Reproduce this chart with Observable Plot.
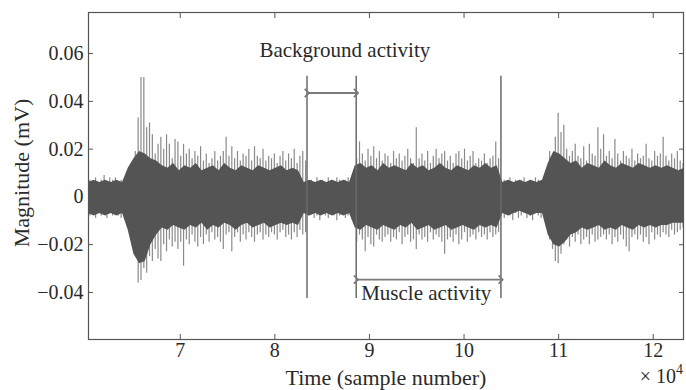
<!DOCTYPE html>
<html>
<head>
<meta charset="utf-8">
<script src="https://cdn.jsdelivr.net/npm/d3@7"></script>
<script src="https://cdn.jsdelivr.net/npm/@observablehq/plot@0.6"></script>
<style>
  html, body { margin: 0; padding: 0; background: #fff; }
  #chart { width: 686px; height: 390px; }
</style>
</head>
<body>
<div id="chart"></div>
<script>
// EMG trace (units: 10^-3 mV)
const sampleStart = 60450;   // first sample of the peak series
const sampleStep = 300;      // samples between peak readings
const upperPeaks = [
  7,6,8,6,7,9,6,8,7,8,6,7,6,7,
  10,14,19,33,50,50,29,31,
  26,18,22,25,20,26,22,16,24,
  23,17,22,18,20,16,19,17,21,15,
  18,14,16,19,15,17,19,25,17,21,
  16,19,15,18,17,20,15,21,17,16,
  20,15,17,16,18,14,17,19,15,18,
  16,20,14,17,19,15,
  6,7,5,8,6,7,6,8,7,6,8,7,6,7,8,6,7,
  16,23,18,15,20,17,21,16,19,15,18,
  17,14,19,16,18,15,17,20,16,14,29,
  16,18,15,19,14,17,20,16,18,19,15,
  17,14,18,19,16,20,15,17,19,14,16,
  15,18,14,16,17,23,16,
  6,7,6,8,5,7,6,7,8,6,7,6,8,7,6,7,
  12,19,16,25,35,27,30,20,17,19,
  22,17,16,21,15,22,18,17,29,20,26,
  17,19,16,24,18,15,19,17,16,20,15,
  18,16,17,22,16,15,19,17,18,25,
  17,15,18,16,19,15,14
];
const lowerPeaks = [
  -8,-7,-9,-6,-8,-7,-9,-6,-8,-7,-8,-9,-7,-8,
  -11,-15,-24,-36,-35,-30,-32,-25,
  -27,-22,-26,-27,-20,-23,-18,-21,-19,
  -22,-19,-29,-18,-20,-16,-19,-21,-17,-20,
  -16,-19,-15,-18,-17,-19,-22,-16,-15,-23,
  -17,-15,-19,-16,-18,-15,-17,-19,-16,-15,
  -18,-16,-17,-15,-16,-18,-15,-14,-17,-16,
  -18,-15,-17,-14,-16,-15,
  -8,-7,-9,-8,-10,-7,-8,-9,-7,-8,-10,-8,-7,-9,-8,-7,-9,
  -19,-16,-18,-23,-17,-20,-21,-16,-18,-19,-17,
  -16,-19,-17,-18,-15,-20,-17,-16,-19,-18,-22,
  -16,-18,-17,-19,-15,-18,-16,-17,-19,-24,-18,
  -17,-19,-16,-20,-18,-15,-19,-17,-16,-18,-15,
  -17,-16,-18,-15,-17,-16,-15,
  -8,-9,-7,-8,-10,-7,-9,-8,-7,-9,-8,-10,-7,-8,-9,-8,
  -12,-18,-22,-27,-28,-24,-20,-18,-21,-17,
  -19,-16,-20,-18,-17,-20,-16,-19,-18,-17,-16,
  -18,-16,-20,-17,-19,-16,-18,-21,-23,-17,-16,
  -18,-16,-19,-17,-20,-15,-18,-16,-17,-15,
  -16,-17,-14,-16,-15,-14,-13
];
// dense dark core of the trace (units: 10^-3 mV)
const coreStart = 60300;
const coreStep = 600;
const coreUpper = [
  6,7,6,7,6,7,6,
  12,16,19,18,16,15,
  13,12,14,11,13,12,14,11,12,13,11,14,12,11,13,12,11,13,12,11,12,13,11,12,11,
  6,7,6,7,6,7,6,7,6,
  13,14,12,13,11,14,12,13,12,11,14,12,13,11,12,14,12,11,13,12,11,13,12,14,12,13,
  6,7,6,7,6,7,6,7,
  14,19,18,16,14,15,12,14,13,12,15,13,12,14,13,12,14,13,12,13,12,13,12,11,12
];
const coreLower = [
  -7,-8,-7,-8,-7,-8,-7,
  -14,-24,-28,-27,-20,-16,
  -13,-14,-12,-13,-14,-12,-13,-11,-14,-12,-13,-11,-12,-14,-12,-11,-13,-12,-11,-13,-12,-11,-12,-11,-12,
  -7,-8,-7,-8,-7,-8,-7,-8,-7,
  -13,-14,-12,-13,-14,-12,-13,-14,-12,-13,-11,-14,-13,-12,-14,-13,-12,-14,-13,-12,-13,-14,-12,-13,-12,-13,
  -7,-8,-7,-6,-7,-8,-7,-7,
  -16,-20,-21,-19,-16,-15,-13,-14,-13,-12,-14,-13,-14,-12,-13,-14,-12,-13,-12,-13,-12,-12,-11,-11,-11
];

// segment markers and annotations
const markerSamples = [83400, 88600, 103900];
const markerTop = [0.0505, 0.0505, 0.0505];
const markerBottom = [-0.0425, -0.0425, -0.0425];
const annotationText = ["Background activity", "Muscle activity"];
const annotationSample = [87400, 96000];
const annotationY = [0.0613, -0.0404];
const spanStart = [83400, 88600];
const spanEnd = [88600, 103900];
const spanY = [0.0435, -0.0346];

const xTicks = [70000, 80000, 90000, 100000, 110000, 120000];
const yTicks = [-0.04, -0.02, 0, 0.02, 0.04, 0.06];
const xDomain = [60300, 123200];
const yDomain = [-0.0597, 0.0772];

const unit = 1e-3;
const peaks = upperPeaks.map((u, i) => ({t: sampleStart + i * sampleStep, hi: u * unit, lo: lowerPeaks[i] * unit}));
const core = coreUpper.map((u, i) => ({t: coreStart + i * coreStep, hi: u * unit, lo: coreLower[i] * unit}));
const markers = markerSamples.map((t, i) => ({t, y1: markerBottom[i], y2: markerTop[i]}));
const notes = annotationText.map((text, i) => ({text, t: annotationSample[i], y: annotationY[i]}));
const spans = spanStart.map((a, i) => ({x1: a, x2: spanEnd[i], y: spanY[i]}));

const font = "'Liberation Serif', 'DejaVu Serif', serif";
const ink = "#2a2a2a";
const yFormat = d3.format(".2~f");

const chart = Plot.plot({
  width: 686,
  height: 390,
  marginLeft: 88,
  marginRight: 3,
  marginTop: 12,
  marginBottom: 51,
  style: {fontFamily: font, fontSize: "20px", color: ink, background: "#fff"},
  x: {domain: xDomain},
  y: {domain: yDomain},
  marks: [
    Plot.ruleX(peaks, {x: "t", y1: "lo", y2: "hi", stroke: "#8a8a8a", strokeWidth: 1.2, clip: true}),
    Plot.areaY(core, {x: "t", y1: "lo", y2: "hi", fill: "#545454", curve: "linear", clip: true}),
    Plot.ruleX(markers, {x: "t", y1: "y1", y2: "y2", stroke: "#6a6a6a", strokeWidth: 1.5}),
    Plot.link(spans, {x1: "x1", x2: "x2", y1: "y", y2: "y", stroke: "#7a7a7a", strokeWidth: 1.8, markerStart: "arrow", markerEnd: "arrow"}),
    Plot.text(notes, {x: "t", y: "y", text: "text", fontSize: 21, fill: ink, textAnchor: "middle", lineAnchor: "middle"}),
    Plot.frame({stroke: "#555", strokeWidth: 1.2}),
    Plot.axisX({anchor: "bottom", ticks: xTicks, tickFormat: d => d / 1e4, tickSize: -5, tickPadding: 8, label: null, fontSize: 20, fill: ink, stroke: "#555"}),
    Plot.axisX({anchor: "top", ticks: xTicks, tickFormat: () => "", tickSize: -5, label: null, stroke: "#555"}),
    Plot.axisY({anchor: "left", ticks: yTicks, tickFormat: yFormat, tickSize: -5, tickPadding: 10, label: null, fontSize: 20, fill: ink, stroke: "#555"}),
    Plot.axisY({anchor: "right", ticks: yTicks, tickFormat: () => "", tickSize: -5, label: null, stroke: "#555"})
  ]
});

const svg = d3.select(chart);
svg.append("text")
  .attr("transform", "translate(29,173) rotate(-90)")
  .attr("text-anchor", "middle")
  .attr("font-size", 22)
  .attr("font-family", font)
  .attr("fill", ink)
  .text("Magnitude (mV)");
svg.append("text")
  .attr("x", 386).attr("y", 385)
  .attr("text-anchor", "middle")
  .attr("font-size", 22)
  .attr("font-family", font)
  .attr("fill", ink)
  .text("Time (sample number)");
const mult = svg.append("text")
  .attr("x", 683).attr("y", 383)
  .attr("text-anchor", "end")
  .attr("font-size", 20)
  .attr("font-family", font)
  .attr("fill", ink);
mult.append("tspan").text("× 10");
mult.append("tspan").attr("dy", -9).attr("font-size", 14).text("4");

document.getElementById("chart").appendChild(chart);
</script>
</body>
</html>
